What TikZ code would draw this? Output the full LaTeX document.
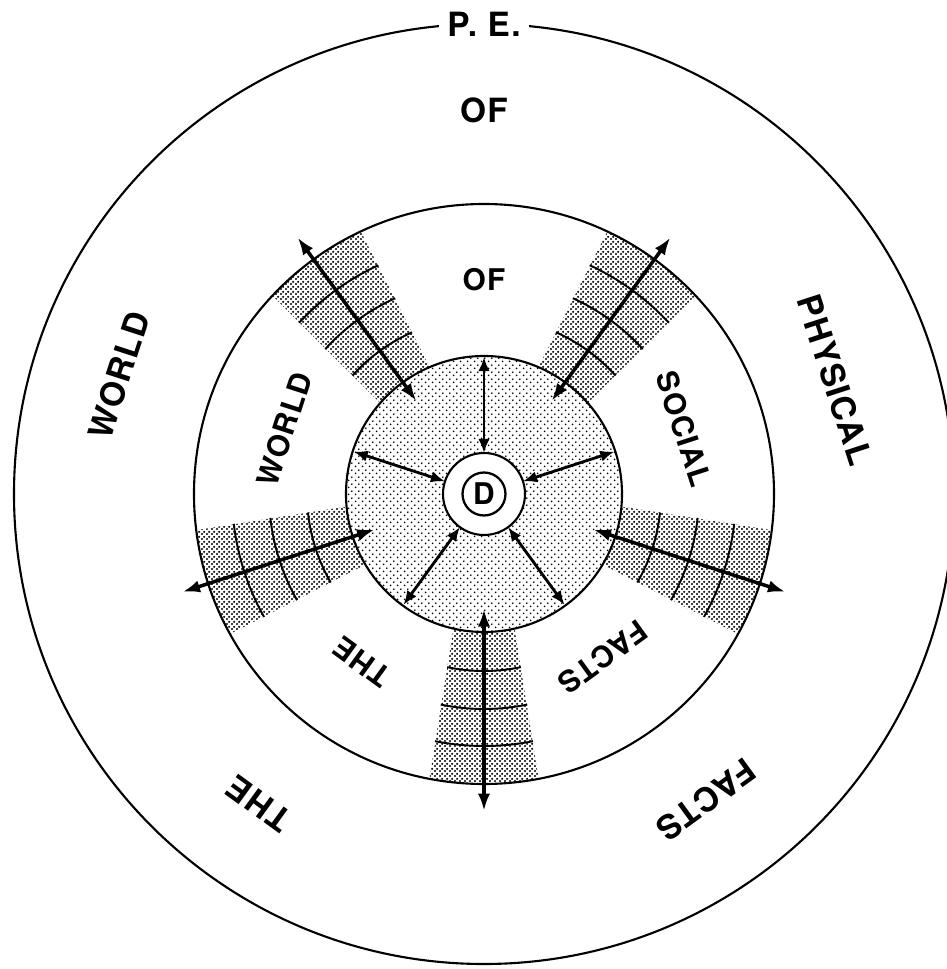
\documentclass[tikz,border=0pt]{standalone}
\usepackage{fontspec}
\usepackage{tikz}
\usetikzlibrary{arrows.meta,patterns}
\newfontfamily\helv[LetterSpace=4]{TeX Gyre Heros}
\pgfdeclarepatternformonly{bandstipple}{\pgfqpoint{0pt}{0pt}}{\pgfqpoint{2.6pt}{2.6pt}}{\pgfqpoint{2.6pt}{2.6pt}}{%
  \pgfpathcircle{\pgfqpoint{0.65pt}{0.65pt}}{0.7pt}%
  \pgfpathcircle{\pgfqpoint{1.95pt}{1.95pt}}{0.7pt}%
  \pgfusepath{fill}}
\pgfdeclarepatternformonly{corestipple}{\pgfqpoint{0pt}{0pt}}{\pgfqpoint{3.8pt}{3.8pt}}{\pgfqpoint{3.8pt}{3.8pt}}{%
  \pgfpathcircle{\pgfqpoint{0.95pt}{0.95pt}}{0.55pt}%
  \pgfpathcircle{\pgfqpoint{2.85pt}{2.85pt}}{0.55pt}%
  \pgfusepath{fill}}
\tikzset{rim/.style={line width=1.2pt},
  spoke/.style={line width=2pt,{Latex[length=10pt,width=7pt]}-{Latex[length=10pt,width=7pt]}},
  link/.style={line width=1.6pt,{Latex[length=8pt,width=6.5pt]}-{Latex[length=8pt,width=6.5pt]}},
  rung/.style={line width=1.1pt},
  outerlbl/.style={font=\helv\bfseries\fontsize{19}{22}\selectfont,inner sep=1pt},
  innerlbl/.style={font=\helv\bfseries\fontsize{17}{20}\selectfont,inner sep=1pt},
  dmark/.style={circle,draw,line width=1.3pt,minimum size=8.6mm,inner sep=0pt,font=\helv\bfseries\fontsize{17}{20}\selectfont}}

\begin{document}
\begin{tikzpicture}[scale=0.02]
\useasboundingbox (-484,-475) rectangle (462,494);
\draw[rim] (0,0) circle (470);
\begin{scope}
\clip (0,0) circle (290);
\foreach \a in {54,126,198,270,342}{
  \fill[pattern=bandstipple] (\a+14.04:103.1) -- (\a+10.76:305.4) -- (\a-10.76:305.4) -- (\a-14.04:103.1) -- cycle;
  \foreach \r/\d in {177/12,215/11.6,252/11.2}
    \draw[rung] (\a-\d:\r) arc[start angle=\a-\d,end angle=\a+\d,radius=\r];}
\end{scope}
\draw[rim] (0,0) circle (290);
\draw[rim,preaction={fill=white},pattern=corestipple] (0,0) circle (138);
\draw[rim,fill=white] (0,0) circle (41);
\node[dmark] (d) at (0,0) {D};
\foreach \a in {18,90,162,234,306}{
  \coordinate (hub\a) at (\a:41); \coordinate (core\a) at (\a:137);
  \draw[link] (hub\a) -- (core\a);}
\foreach \a in {54,126,198,270,342}{
  \coordinate (in\a) at (\a:115); \coordinate (out\a) at (\a:317);
  \draw[spoke] (in\a) -- (out\a);}
\node[outerlbl,fill=white,inner xsep=5pt] (pe) at (90:470) {P. E.};
\foreach \a/\r/\t [count=\i] in {90/384/OF,162/384/WORLD,18/369/PHYSICAL,234/383/THE,306/378/FACTS}
  \node[outerlbl,rotate=\a-90] (outer\i) at (\a:\r) {\t};
\foreach \a/\r/\t [count=\i] in {90/214/OF,162/210/WORLD,18/210/SOCIAL,234/208/THE,306/202/FACTS}
  \node[innerlbl,rotate=\a-90] (inner\i) at (\a:\r) {\t};
\end{tikzpicture}
\end{document}
